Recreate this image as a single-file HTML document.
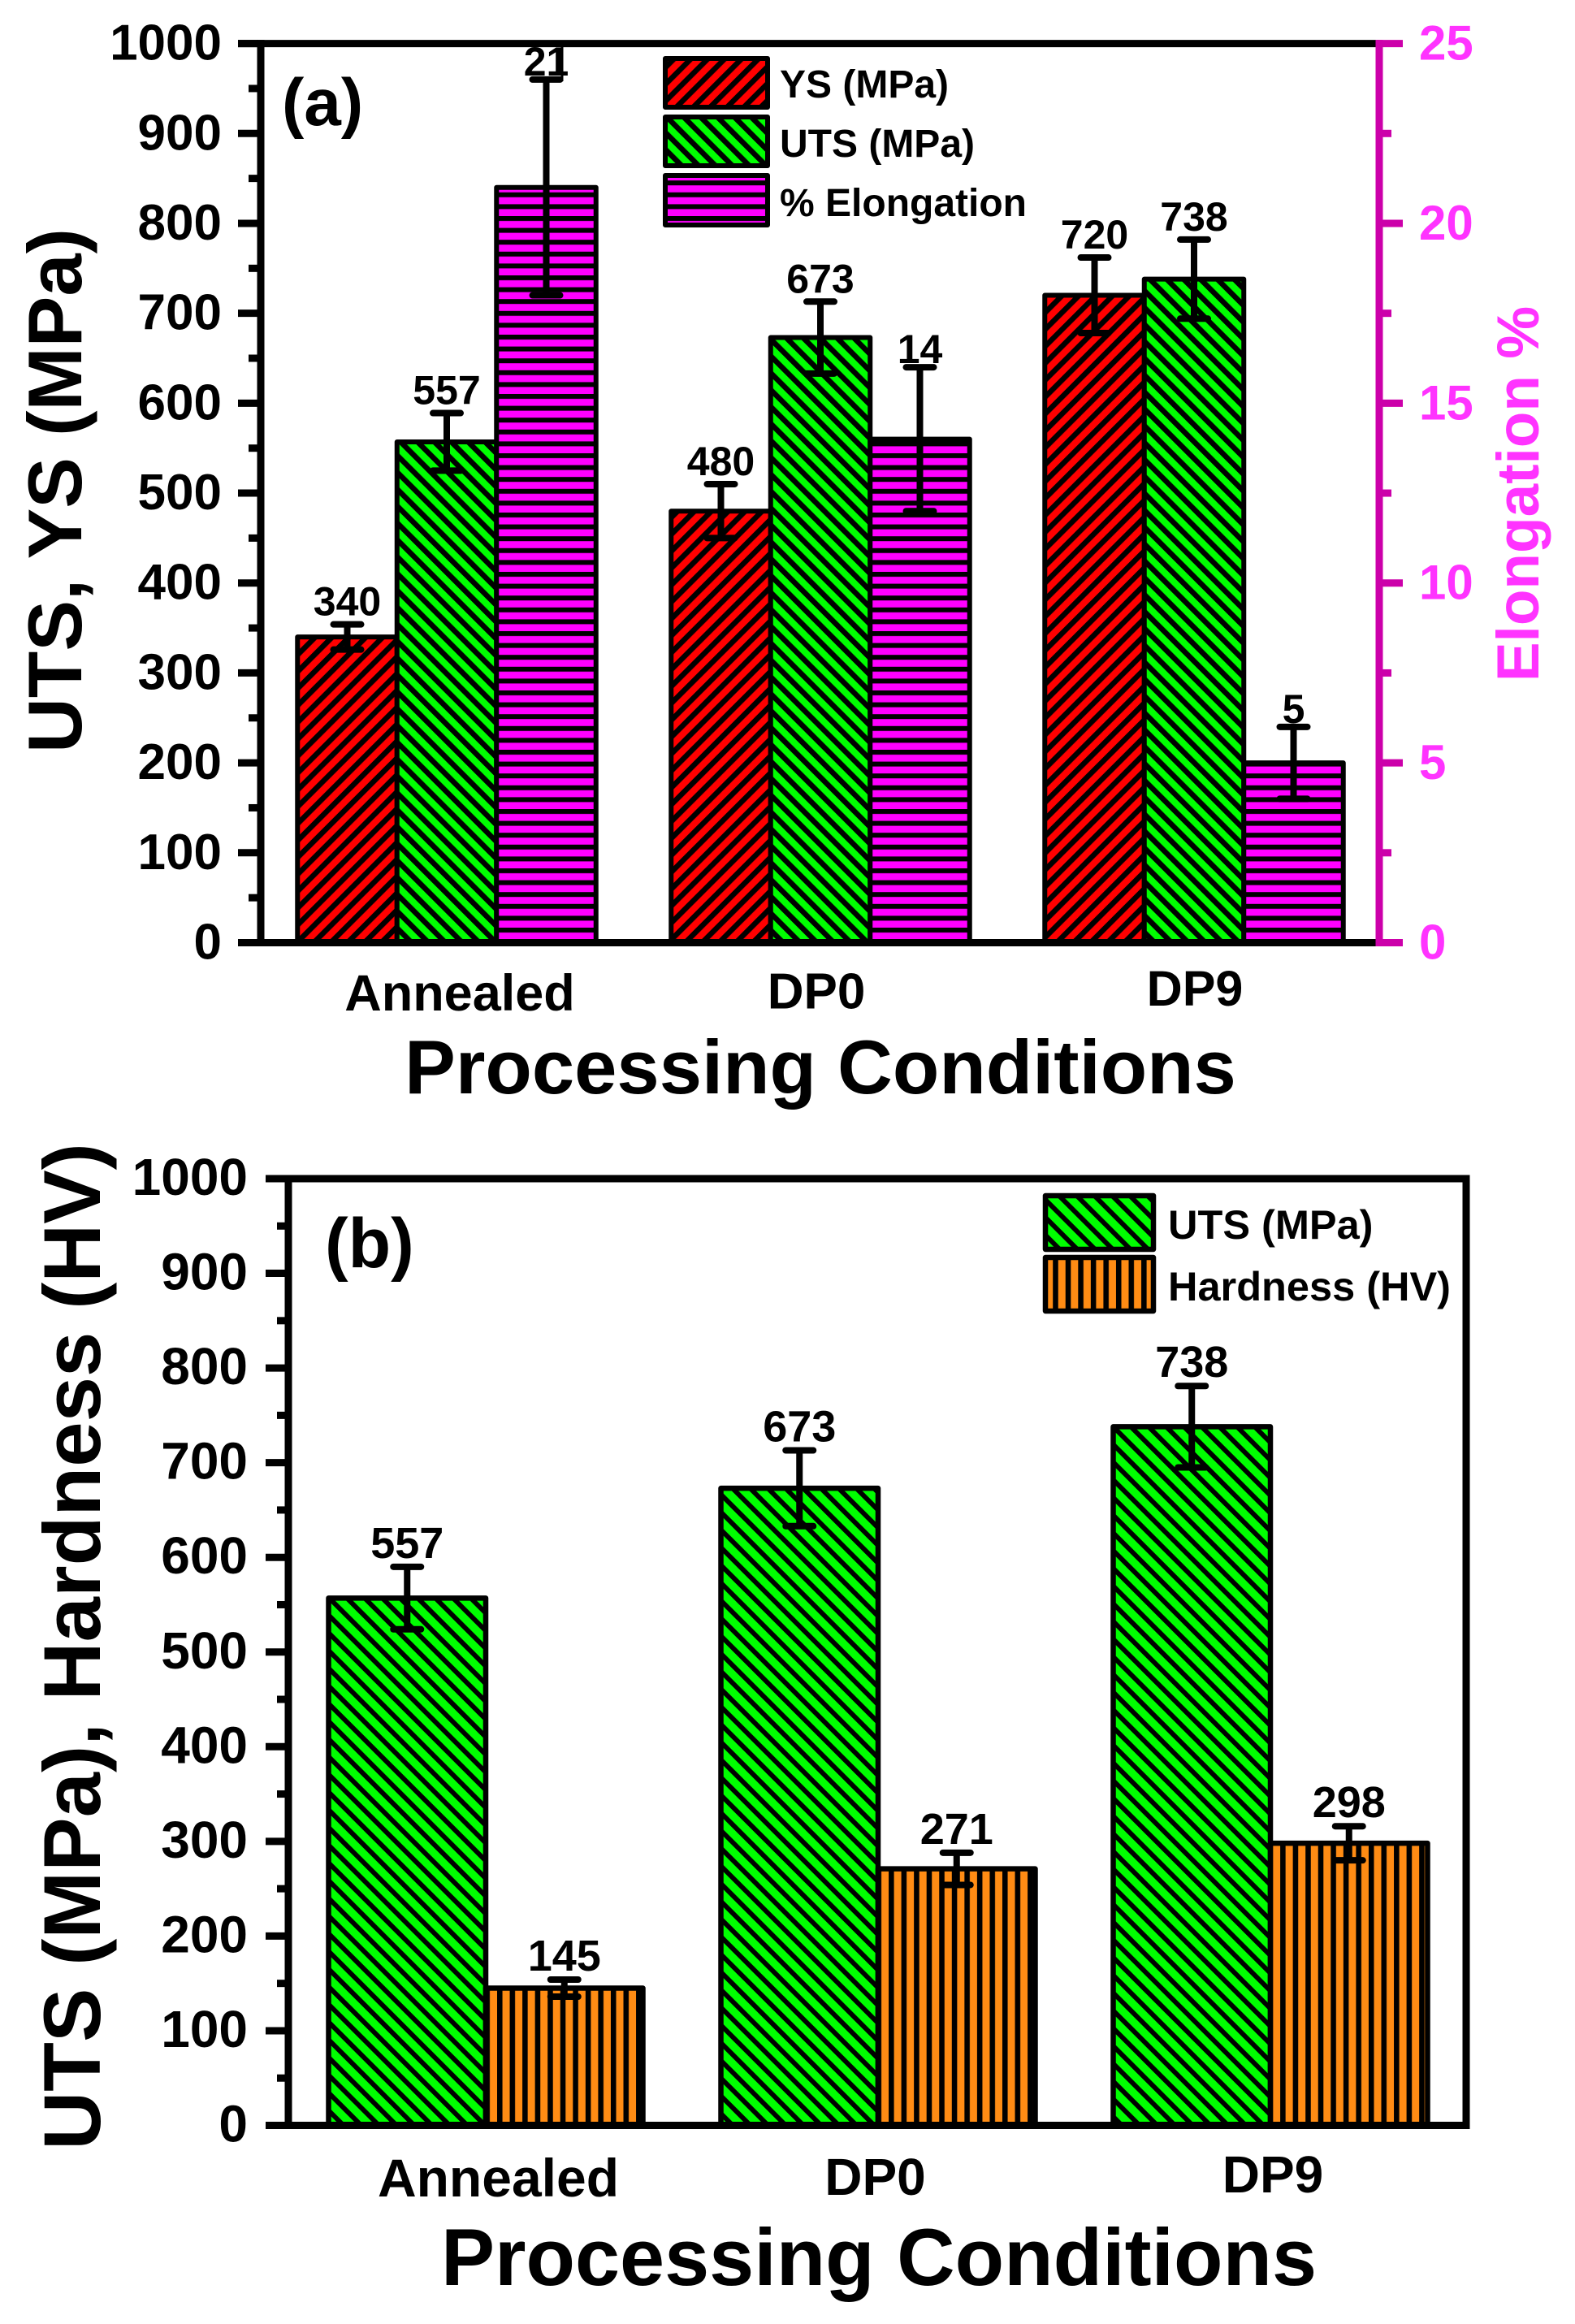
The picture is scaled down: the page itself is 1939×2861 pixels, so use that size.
<!DOCTYPE html>
<html lang="en">
<head>
<meta charset="utf-8">
<title>Mechanical properties vs processing conditions</title>
<style>
html,body{margin:0;padding:0;background:#fff;}
svg{display:block;}
text{font-family:"Liberation Sans",sans-serif;font-weight:bold;fill:#000;}
</style>
</head>
<body>
<svg id="figure" xmlns="http://www.w3.org/2000/svg" width="1939" height="2861" viewBox="0 0 1939 2861">
  <defs>
    <pattern id="hatch-red" x="2.6" y="0" width="14.7" height="14.7" patternUnits="userSpaceOnUse" patternTransform="rotate(45)">
      <rect width="14.7" height="14.7" fill="#ff0000"/><rect width="6.6" height="14.7" fill="#000"/>
    </pattern>
    <pattern id="hatch-green" x="4.9" y="0" width="14.7" height="14.7" patternUnits="userSpaceOnUse" patternTransform="rotate(-45)">
      <rect width="14.7" height="14.7" fill="#00ff00"/><rect width="6.6" height="14.7" fill="#000"/>
    </pattern>
    <pattern id="hatch-green-b" x="1.34" y="0" width="15.4" height="15.4" patternUnits="userSpaceOnUse" patternTransform="rotate(-45)">
      <rect width="15.4" height="15.4" fill="#00ff00"/><rect width="5.9" height="15.4" fill="#000"/>
    </pattern>
    <pattern id="hatch-magenta" x="0" y="3.2" width="14.6" height="14.6" patternUnits="userSpaceOnUse">
      <rect width="14.6" height="14.6" fill="#ff00ff"/><rect width="14.6" height="6" fill="#000"/>
    </pattern>
    <pattern id="hatch-orange" x="5.55" y="0" width="15.55" height="15.55" patternUnits="userSpaceOnUse">
      <rect width="15.55" height="15.55" fill="#ff8c14"/><rect width="6.55" height="15.55" fill="#000"/>
    </pattern>
  </defs>

  <g id="panel-a">
    <g id="a-bars"></g>
    <g id="a-axes"></g>
    <g id="a-errors"></g>
    <g id="a-values"></g>
    <line x1="692" y1="56" x2="692" y2="100" stroke="#000" stroke-width="3"/>
    <text x="347" y="154" font-size="82">(a)</text>
    <text transform="translate(100,604) rotate(-90)" text-anchor="middle" font-size="94">UTS, YS (MPa)</text>
    <text transform="translate(1894,608) rotate(-90)" text-anchor="middle" font-size="73" style="fill:#ff33ff">Elongation %</text>
    <text x="1010" y="1346" text-anchor="middle" font-size="94">Processing Conditions</text>
    <g>
      <rect x="819" y="72" width="126" height="60" fill="url(#hatch-red)" stroke="#000" stroke-width="6" stroke-linejoin="round"/>
      <text x="960" y="120" font-size="48">YS (MPa)</text>
      <rect x="819" y="144" width="126" height="60" fill="url(#hatch-green)" stroke="#000" stroke-width="6" stroke-linejoin="round"/>
      <text x="960" y="193" font-size="48">UTS (MPa)</text>
      <rect x="819" y="216" width="126" height="61" fill="url(#hatch-magenta)" stroke="#000" stroke-width="6" stroke-linejoin="round"/>
      <text x="960" y="266" font-size="48">% Elongation</text>
    </g>
  </g>

  <g id="panel-b">
    <g id="b-bars"></g>
    <g id="b-axes"></g>
    <g id="b-errors"></g>
    <g id="b-values"></g>
    <text x="400" y="1560" font-size="86">(b)</text>
    <text transform="translate(123,2027) rotate(-90)" text-anchor="middle" font-size="99.6">UTS (MPa), Hardness (HV)</text>
    <text x="1082" y="2813" text-anchor="middle" font-size="99">Processing Conditions</text>
    <g>
      <rect x="1287" y="1472" width="133" height="66" fill="url(#hatch-green-b)" stroke="#000" stroke-width="6.5" stroke-linejoin="round"/>
      <text x="1438" y="1525" font-size="50.5">UTS (MPa)</text>
      <rect x="1287" y="1548" width="133" height="66" fill="url(#hatch-orange)" stroke="#000" stroke-width="6.5" stroke-linejoin="round"/>
      <text x="1438" y="1601" font-size="50.5">Hardness (HV)</text>
    </g>
  </g>
</svg>
<script>
// Panel (a) data
const categories = ['Annealed', 'DP0', 'DP9'];
const ysValues = [340, 480, 720];
const ysErrors = [14, 30, 42];
const utsValues = [557, 673, 738];
const utsErrors = [32, 40, 44];
const elongationValues = [21, 14, 5];
const elongationErrors = [3, 2, 1];
const leftTickLabels = [0, 100, 200, 300, 400, 500, 600, 700, 800, 900, 1000];
const rightTickLabels = [0, 5, 10, 15, 20, 25];
// Panel (b) data
const hardnessValues = [145, 271, 298];
const hardnessErrors = [9, 17, 18];
const utsValuesB = [557, 673, 738];
const utsErrorsB = [33, 40, 43];
const tickLabelsB = [0, 100, 200, 300, 400, 500, 600, 700, 800, 900, 1000];

const NS = 'http://www.w3.org/2000/svg';
function svgEl(parent, tag, props) {
  const el = document.createElementNS(NS, tag);
  Object.keys(props).forEach(function (k) { el.setAttribute(k, props[k]); });
  parent.appendChild(el);
  return el;
}
function svgText(parent, str, props) {
  const el = svgEl(parent, 'text', props);
  el.textContent = String(str);
  return el;
}
function slug(s) { return String(s).toLowerCase().replace(/[^a-z0-9]+/g, '-'); }

function drawBars(group, errGroup, valGroup, values, errors, cx, barW, y, fill, prefix, labelGap, labelSize, strokeW) {
  values.forEach(function (v, i) {
    const top = y(v);
    const bar = svgEl(group, 'rect', { x: cx(i) - barW / 2, y: top, width: barW, height: y(0) - top, fill: fill, stroke: '#000', 'stroke-width': strokeW, 'stroke-linejoin': 'round' });
    
    

    const yHi = y(v + errors[i]);
    const yLo = y(v - errors[i]);
    const stem = svgEl(errGroup, 'line', { x1: cx(i), x2: cx(i), y1: yHi, y2: yLo, stroke: '#000', 'stroke-width': 8 });
    
    
    [yHi, yLo].forEach(function (yc, k) {
      const cap = svgEl(errGroup, 'line', { x1: cx(i) - 17, x2: cx(i) + 17, y1: yc, y2: yc, stroke: '#000', 'stroke-width': 8, 'stroke-linecap': 'round' });
      
      
    });

    const lab = svgText(valGroup, v, { x: cx(i), y: yHi - labelGap, 'text-anchor': 'middle', 'font-size': labelSize });
    
    
  });
}

function drawPanelA() {
  const y0 = 1160.5, yTop = 53.6;
  const yL = function (v) { return y0 - v * (y0 - yTop) / 1000; };
  const yR = function (v) { return y0 - v * (y0 - yTop) / 25; };
  const catX = function (i) { return 550 + 460 * i; };
  const barW = 122.5;
  const bars = document.getElementById('a-bars');
  const errs = document.getElementById('a-errors');
  const vals = document.getElementById('a-values');
  const axes = document.getElementById('a-axes');

  drawBars(bars, errs, vals, ysValues, ysErrors, function (i) { return catX(i) - barW; }, barW, yL, 'url(#hatch-red)', 'ys', 11, 50, 6);
  drawBars(bars, errs, vals, utsValues, utsErrors, catX, barW, yL, 'url(#hatch-green)', 'uts', 11, 50, 6);
  drawBars(bars, errs, vals, elongationValues, elongationErrors, function (i) { return catX(i) + barW; }, barW, yR, 'url(#hatch-magenta)', 'elongation', 5, 50, 6);

  const rightColor = '#cc00aa';
  const topAxis = svgEl(axes, 'line', { x1: 293, x2: 1698, y1: yTop, y2: yTop, stroke: '#000', 'stroke-width': 9 });
  
  
  const bottomAxis = svgEl(axes, 'line', { x1: 293, x2: 1698, y1: y0, y2: y0, stroke: '#000', 'stroke-width': 9 });
  
  
  const leftAxis = svgEl(axes, 'line', { x1: 321, x2: 321, y1: yTop - 4.5, y2: y0 + 4.5, stroke: '#000', 'stroke-width': 9 });
  
  
  const rightAxis = svgEl(axes, 'line', { x1: 1698, x2: 1698, y1: yTop - 4.5, y2: y0 + 4.5, stroke: rightColor, 'stroke-width': 9 });
  
  

  leftTickLabels.forEach(function (v, i) {
    const t = svgEl(axes, 'line', { x1: 293, x2: 318, y1: yL(v), y2: yL(v), stroke: '#000', 'stroke-width': 9 });
    
    
    const l = svgText(axes, v, { x: 273, y: yL(v) + 20, 'text-anchor': 'end', 'font-size': 62 });
    
    
    if (i < leftTickLabels.length - 1) {
      const mv = (v + leftTickLabels[i + 1]) / 2;
      const m = svgEl(axes, 'line', { x1: 306, x2: 318, y1: yL(mv), y2: yL(mv), stroke: '#000', 'stroke-width': 9 });
      
      
    }
  });
  rightTickLabels.forEach(function (v, i) {
    const t = svgEl(axes, 'line', { x1: 1694, x2: 1727, y1: yR(v), y2: yR(v), stroke: rightColor, 'stroke-width': 9 });
    
    
    const l = svgText(axes, v, { x: 1747, y: yR(v) + 20, 'font-size': 60, style: 'fill:#ff33ff' });
    
    
    if (i < rightTickLabels.length - 1) {
      const mv = (v + rightTickLabels[i + 1]) / 2;
      const m = svgEl(axes, 'line', { x1: 1700, x2: 1713, y1: yR(mv), y2: yR(mv), stroke: rightColor, 'stroke-width': 9 });
      
      
    }
  });

  const dx = [16, -5, 1];
  const by = [1244, 1241.5, 1238];
  const fs = [63, 62, 61];
  categories.forEach(function (c, i) {
    const l = svgText(axes, c, { x: catX(i) + dx[i], y: by[i], 'text-anchor': 'middle', 'font-size': fs[i] });
    
    
  });
}

function drawPanelB() {
  const y0 = 2616.5, yTop = 1451;
  const y = function (v) { return y0 - v * (y0 - yTop) / 1000; };
  const catX = function (i) { return 598 + 483 * i; };
  const barW = 193.5;
  const bars = document.getElementById('b-bars');
  const errs = document.getElementById('b-errors');
  const vals = document.getElementById('b-values');
  const axes = document.getElementById('b-axes');

  drawBars(bars, errs, vals, utsValuesB, utsErrorsB, function (i) { return catX(i) - barW / 2; }, barW, y, 'url(#hatch-green-b)', 'uts-b', 11, 54, 6.5);
  drawBars(bars, errs, vals, hardnessValues, hardnessErrors, function (i) { return catX(i) + barW / 2; }, barW, y, 'url(#hatch-orange)', 'hardness', 11, 54, 6.5);

  const frame = svgEl(axes, 'path', { d: 'M327 ' + yTop + 'H1805V' + y0 + 'H327', fill: 'none', stroke: '#000', 'stroke-width': 9 });
  
  
  const leftAxis = svgEl(axes, 'line', { x1: 355, x2: 355, y1: yTop - 4.5, y2: y0 + 4.5, stroke: '#000', 'stroke-width': 9 });
  
  

  tickLabelsB.forEach(function (v, i) {
    const t = svgEl(axes, 'line', { x1: 327, x2: 352, y1: y(v), y2: y(v), stroke: '#000', 'stroke-width': 9 });
    
    
    const l = svgText(axes, v, { x: 305, y: y(v) + 20, 'text-anchor': 'end', 'font-size': 64 });
    
    
    if (i < tickLabelsB.length - 1) {
      const mv = (v + tickLabelsB[i + 1]) / 2;
      const m = svgEl(axes, 'line', { x1: 341, x2: 352, y1: y(mv), y2: y(mv), stroke: '#000', 'stroke-width': 9 });
      
      
    }
  });

  const dx = [15.5, -3.5, 3];
  const by = [2704, 2702, 2699];
  const fs = [66, 64, 64];
  categories.forEach(function (c, i) {
    const l = svgText(axes, c, { x: catX(i) + dx[i], y: by[i], 'text-anchor': 'middle', 'font-size': fs[i] });
    
    
  });
}

drawPanelA();
drawPanelB();
</script>
</body>
</html>
